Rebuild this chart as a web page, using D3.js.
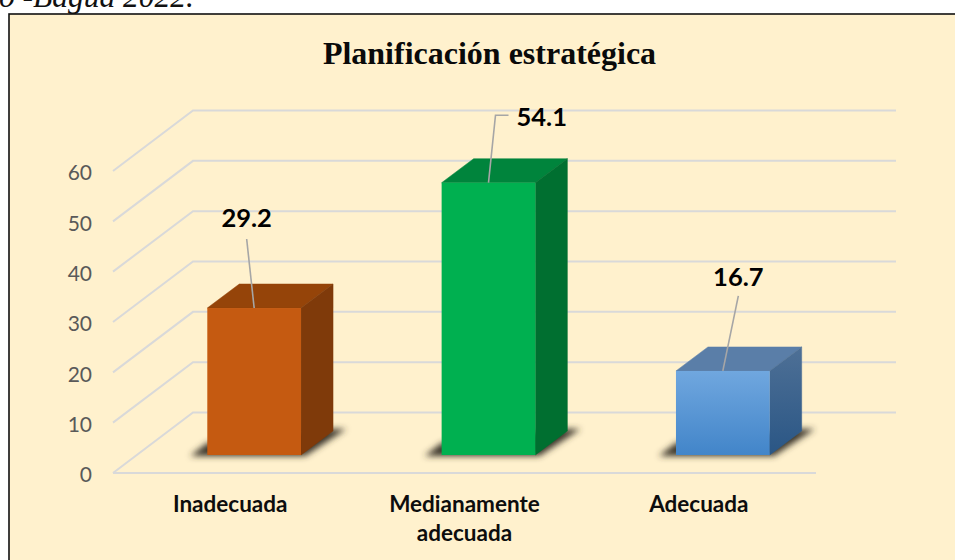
<!DOCTYPE html>
<html><head><meta charset="utf-8">
<script src="https://cdn.jsdelivr.net/npm/d3@7"></script>
<style>html,body{margin:0;padding:0;background:#fff;overflow:hidden}svg{display:block}</style>
</head><body><svg id="c" width="955" height="560"></svg>
<script>
const categories = ["Inadecuada", "Medianamente adecuada", "Adecuada"];
const values = [29.2, 54.1, 16.7];
const tickValues = [0, 10, 20, 30, 40, 50, 60];
const titleText = "Planificación estratégica";
const headingText = "o -Bagua 2022.";
const faceColors = ["#C55A11", "#00B050", "url(#blueFront)"];
const topColors = ["#954409", "#00843C", "#5A7EA8"];
const sideColors = ["#7F3A0A", "#006F30", "url(#blueSide)"];
// label anchor relative to the bar's top-centre, and optional elbow
const labelLayout = [
  {dx:-7.5, dy:-89, anchor:"middle", lead:[[-7.5,-69]]},
  {dx:28, dy:-65, anchor:"start", lead:[[20,-67.5],[7,-67.5]]},
  {dx:15.5, dy:-93, anchor:"middle", lead:[[15.5,-75]]}
];

const svg = d3.select("#c");
const defs = svg.append("defs");
const grad = (id, a, b) => {
  const g = defs.append("linearGradient").attr("id", id).attr("x1",0).attr("y1",0).attr("x2",0).attr("y2",1);
  g.append("stop").attr("offset",0).attr("stop-color",a);
  g.append("stop").attr("offset",1).attr("stop-color",b);
};
grad("blueFront", "#70A7DF", "#4285C9");
grad("blueSide", "#4E7096", "#2A5685");
defs.append("filter").attr("id","blur").attr("x","-20%").attr("y","-30%").attr("width","140%").attr("height","160%")
  .append("feGaussianBlur").attr("stdDeviation",3);

// plate
svg.append("rect").attr("x",9).attr("y",14).attr("width",960).attr("height",560)
  .attr("fill","#FFF1CD").attr("stroke","#111").attr("stroke-width",1.6);

// clipped heading above the plate
svg.append("text").attr("x",194).attr("y",7).attr("text-anchor","end")
  .attr("font-family","'Liberation Serif'").attr("font-style","italic").attr("font-size",31.5)
  .attr("fill","#111").text(headingText);

// title
svg.append("text").attr("x",489.5).attr("y",64).attr("text-anchor","middle")
  .attr("font-family","'Liberation Serif'").attr("font-weight","bold").attr("font-size",32)
  .attr("fill","#0a0a0a").text(titleText);

const x = d3.scaleBand().domain(categories).range([113, 816]);
const y = d3.scaleLinear().domain([0, 60]).range([473, 171]);
const back = {dx:80, dy:-60.5};
const inset = {dx:24, dy:-18};
const depth = {dx:32, dy:-24};
const barW = x.bandwidth() * 0.4;

// gridlines
const grid = svg.append("g").attr("fill","none").attr("stroke","#D9D9D9").attr("stroke-width",2);
grid.selectAll("path").data(tickValues).join("path")
  .attr("d", t => d3.line()([[113,y(t)],[113+back.dx,y(t)+back.dy],[816+back.dx,y(t)+back.dy]]));
grid.append("path").attr("d", d3.line()([[113,y(0)],[816,y(0)]]));

// value axis labels
const axis = svg.append("g").attr("transform","translate(92,2)")
  .call(d3.axisLeft(y).tickValues(tickValues).tickSize(0).tickPadding(0).tickFormat(d3.format("d")));
axis.select(".domain").remove();
axis.selectAll("text").attr("font-family","Lato").attr("font-size",21).attr("fill","#595959");

// category labels
const catLines = d => d === "Medianamente adecuada" ? ["Medianamente","adecuada"] : [d];
const cat = svg.append("g").attr("font-family","Lato").attr("font-weight","bold").attr("font-size",22.5)
  .attr("fill","#0d0d0d").attr("text-anchor","middle");
categories.forEach(c => {
  catLines(c).forEach((l,i) => cat.append("text").attr("x", x(c)+x.bandwidth()/2).attr("y", 512+i*29).text(l));
});

// bars
const base = y(0) + inset.dy;
const barH = v => y(0) - y(v);
const bars = svg.selectAll("g.bar").data(categories).join("g").attr("class","bar");
bars.each(function(c,i){
  const g = d3.select(this);
  const x0 = x(c) + (x.bandwidth()-barW)/2 + inset.dx, x1 = x0 + barW;
  const top = base - barH(values[i]);
  const poly = pts => d3.line()(pts) + "Z";
  g.append("path").attr("filter","url(#blur)").attr("fill","#3a352b")
    .attr("d", poly([[x0-17,base+1],[x1+4,base+1],[x1+45,base-26],[x1+30,base-26],[x0,base-12]]));
  g.append("path").attr("fill",topColors[i]).attr("stroke",topColors[i]).attr("stroke-width",.5)
    .attr("d", poly([[x0,top],[x1,top],[x1+depth.dx,top+depth.dy],[x0+depth.dx,top+depth.dy]]));
  g.append("path").attr("fill",sideColors[i]).attr("stroke",sideColors[i]).attr("stroke-width",.5)
    .attr("d", poly([[x1,top],[x1+depth.dx,top+depth.dy],[x1+depth.dx,base+depth.dy],[x1,base]]));
  g.append("rect").attr("x",x0).attr("y",top).attr("width",barW).attr("height",base-top).attr("fill",faceColors[i]);

  // leader and data label
  const cx = (x0+x1)/2, L = labelLayout[i];
  const pts = [[cx,top]].concat(L.lead.map(p => [cx+p[0], top+p[1]]).reverse());
  g.append("path").attr("fill","none").attr("stroke","#A6A6A6").attr("stroke-width",1.6).attr("d", d3.line()(pts));
  g.append("text").attr("x",cx+L.dx).attr("y",top+L.dy+8).attr("text-anchor",L.anchor)
    .attr("font-family","Lato").attr("font-weight","bold").attr("font-size",25.5).attr("fill","#000")
    .text(d3.format(".1f")(values[i]));
});
</script></body></html>
